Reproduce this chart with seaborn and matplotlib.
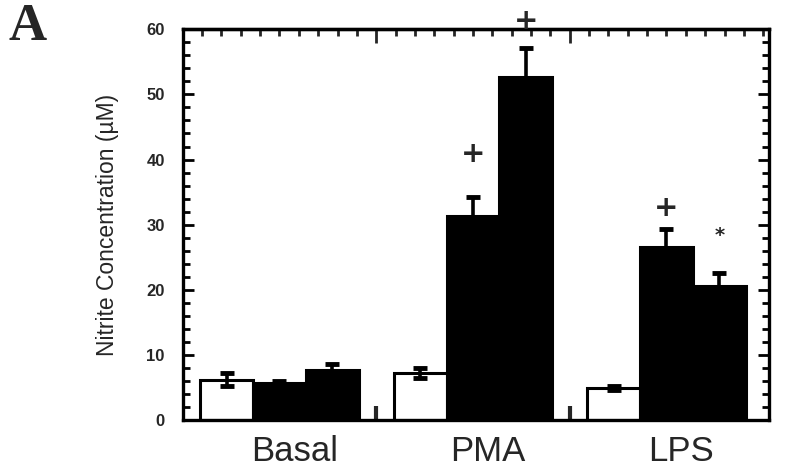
import matplotlib
matplotlib.use("Agg")
import matplotlib.pyplot as plt
import numpy as np
import pandas as pd
import seaborn as sns
from matplotlib.ticker import MultipleLocator, FixedLocator, NullFormatter
from matplotlib.transforms import ScaledTranslation

# Nitrite concentration (µM), mean and SEM per stimulus and condition
groups = ["Basal", "PMA", "LPS"]
conditions = ["open", "filled_1", "filled_2"]
basal = [6.2, 5.7, 7.7]
pma = [7.2, 31.3, 52.6]
lps = [4.9, 26.6, 20.6]
basal_sem = [1.0, 0.3, 0.9]
pma_sem = [0.8, 3.0, 4.6]
lps_sem = [0.3, 2.7, 1.9]
y_ticks = [0, 10, 20, 30, 40, 50, 60]
y_label = "Nitrite Concentration (µM)"
panel_label = "A"
# significance symbols: (group, condition, symbol, height in µM)
marks = [
    ("PMA", "filled_1", "+", 40.9),
    ("PMA", "filled_2", "+", 61.3),
    ("LPS", "filled_1", "+", 32.5),
    ("LPS", "filled_2", "*", 28.4),
]

rows = []
for g, vals, sems in zip(groups, [basal, pma, lps], [basal_sem, pma_sem, lps_sem]):
    for c, v, s in zip(conditions, vals, sems):
        rows.append({"group": g, "condition": c, "value": v, "sem": s})
df = pd.DataFrame(rows)

sns.set_style("ticks")
plt.rcParams["font.family"] = ["Liberation Sans", "DejaVu Sans"]

fig = plt.figure(figsize=(7.92, 4.72), dpi=100)
ax = fig.add_axes([0.2307, 0.1102, 0.7403, 0.8277])

sns.barplot(
    data=df, x="group", y="value", hue="condition",
    order=groups, hue_order=conditions,
    palette=["white", "black", "black"], saturation=1,
    edgecolor="black", linewidth=2.2, width=0.82,
    errorbar=None, legend=False, ax=ax,
)

# error bars and significance symbols on each bar
sem_lookup = df.set_index(["group", "condition"])["sem"]
bar_pos = {}
for cont, cond in zip(ax.containers, conditions):
    for bar, g in zip(cont, groups):
        x = bar.get_x() + bar.get_width() / 2
        h = bar.get_height()
        bar_pos[(g, cond)] = x
        ax.errorbar(x, h, yerr=sem_lookup[(g, cond)], fmt="none",
                    ecolor="black", elinewidth=2.6, capsize=5,
                    capthick=3.5, zorder=4, clip_on=False)

for g, cond, sym, y in marks:
    if sym == "+":
        ax.text(bar_pos[(g, cond)], y, sym, ha="center", va="center",
                fontsize=21, fontweight="bold", family="DejaVu Sans",
                clip_on=False, zorder=5)
    else:
        ax.text(bar_pos[(g, cond)], y, sym, ha="center", va="center",
                fontsize=14, fontweight="bold", family="DejaVu Sans",
                clip_on=False, zorder=5)

# axes frame
for sp in ax.spines.values():
    sp.set_visible(True)
    sp.set_linewidth(2.4)
    sp.set_color("black")

ax.set_ylim(0, 60)
ax.set_xlim(-0.5, 2.53)

ax.yaxis.set_major_locator(FixedLocator(y_ticks))
ax.yaxis.set_minor_locator(MultipleLocator(2))
ax.tick_params(axis="y", which="both", direction="in", left=True, right=True,
               width=2, color="black")
ax.tick_params(axis="y", which="major", length=8, pad=13, labelsize=12)
ax.tick_params(axis="y", which="minor", length=5)
for lbl in ax.get_yticklabels():
    lbl.set_fontweight("bold")

ax.set_xticks(range(len(groups)))
ax.set_xticklabels(groups)
ax.tick_params(axis="x", which="major", length=0, pad=11, labelsize=25)
for lbl in ax.get_xticklabels():
    lbl.set_transform(lbl.get_transform() + ScaledTranslation(0.15, 0, fig.dpi_scale_trans))

# group boundary ticks on the bottom edge
ax.xaxis.set_minor_locator(FixedLocator([0.5, 1.5]))
ax.tick_params(axis="x", which="minor", direction="in", bottom=True, top=False,
               length=10, width=3)

# ticks along the top edge
top = ax.secondary_xaxis("top")
top.xaxis.set_major_locator(FixedLocator([0.5, 1.5]))
top.xaxis.set_minor_locator(MultipleLocator(0.1))
top.xaxis.set_major_formatter(NullFormatter())
top.tick_params(axis="x", which="major", direction="in", length=10, width=2)
top.tick_params(axis="x", which="minor", direction="in", length=5, width=2)
top.spines["top"].set_linewidth(2.4)

ax.set_xlabel("")
ax.set_ylabel(y_label, fontsize=16.5, labelpad=20)

fig.text(28 / 792, 1 - 27 / 472, panel_label, ha="center", va="center",
         fontsize=38, fontweight="bold", family="Liberation Serif")

fig.savefig("out.png", dpi=100)
